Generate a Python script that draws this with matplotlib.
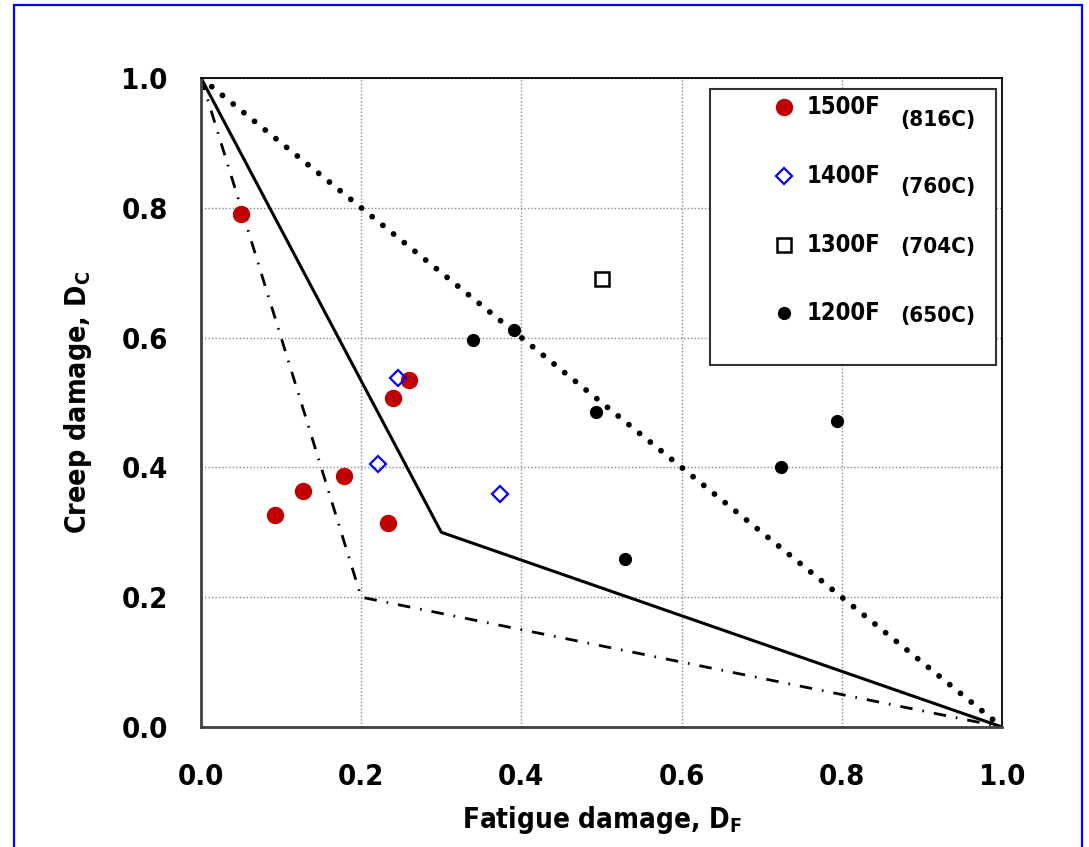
import matplotlib
matplotlib.use('Agg')
import matplotlib.pyplot as plt
from matplotlib.patches import Rectangle

plt.rcParams['font.family'] = ['DejaVu Sans']
plt.rcParams['font.stretch'] = 'condensed'
plt.rcParams['font.weight'] = 'bold'
plt.rcParams['mathtext.default'] = 'bf'

# damage points per test temperature (fatigue D_F, creep D_C)
df_1500 = [0.050, 0.092, 0.127, 0.179, 0.233, 0.240, 0.260]
dc_1500 = [0.790, 0.326, 0.363, 0.386, 0.315, 0.507, 0.534]
df_1400 = [0.246, 0.221, 0.373]
dc_1400 = [0.538, 0.405, 0.359]
df_1300 = [0.501]
dc_1300 = [0.690]
df_1200 = [0.340, 0.391, 0.493, 0.529, 0.724, 0.794]
dc_1200 = [0.596, 0.612, 0.486, 0.259, 0.400, 0.471]

# damage envelopes
env_linear_x = [0.0, 1.0]
env_linear_y = [1.0, 0.0]
env_bilin_x = [0.0, 0.3, 1.0]
env_bilin_y = [1.0, 0.3, 0.0]
env_low_x = [0.0, 0.2, 1.0]
env_low_y = [1.0, 0.2, 0.0]

temps_f = ['1500F', '1400F', '1300F', '1200F']
temps_c = ['(816C)', '(760C)', '(704C)', '(650C)']

styles = [
    dict(marker='o', color='#C00000', ms=11.5),
    dict(marker='D', mfc='none', mec='#0000FF', ms=8, mew=1.6),
    dict(marker='s', mfc='none', mec='black', ms=9.5, mew=1.8),
    dict(marker='o', color='black', ms=8.5),
]

fig = plt.figure(figsize=(10.89, 8.47), dpi=100)
ax = fig.add_axes([0.1846, 0.1417, 0.7355, 0.7662])

ax.plot(env_linear_x, env_linear_y, color='black', lw=4.2, ls=(0, (0.01, 2.35)),
        dash_capstyle='round', zorder=2)
ax.plot(env_bilin_x, env_bilin_y, color='black', lw=2.2, zorder=2)
ax.plot(env_low_x, env_low_y, color='black', lw=2.0, ls=(0, (4.5, 3.6, 0.6, 3.6)), zorder=2)

for xs, ys, st in zip([df_1500, df_1400, df_1300, df_1200],
                      [dc_1500, dc_1400, dc_1300, dc_1200], styles):
    ax.plot(xs, ys, ls='none', zorder=4, **st)

ax.set_xlim(0, 1)
ax.set_ylim(0, 1)
ticks = [0.0, 0.2, 0.4, 0.6, 0.8, 1.0]
ax.set_xticks(ticks)
ax.set_yticks(ticks)
ax.set_xticklabels(['%.1f' % t for t in ticks])
ax.set_yticklabels(['%.1f' % t for t in ticks])
ax.tick_params(length=0, labelsize=21)
ax.tick_params(axis='x', pad=26)
ax.tick_params(axis='y', pad=24)
ax.grid(True, color='#888888', ls=(0, (1, 1.5)), lw=1)
ax.set_axisbelow(True)

for side in ['left', 'bottom']:
    ax.spines[side].set_color('#404040')
    ax.spines[side].set_linewidth(2)
for side in ['top', 'right']:
    ax.spines[side].set_color('black')
    ax.spines[side].set_linewidth(1.3)

ax.set_xlabel('Fatigue damage, D$_F$', fontsize=20, fontweight='bold', labelpad=9)
ax.set_ylabel('Creep damage, D$_C$', fontsize=20.5, fontweight='bold', labelpad=20)

# legend box drawn by hand so the Celsius column can sit apart
ax.add_patch(Rectangle((0.635, 0.558), 0.358, 0.425, transform=ax.transAxes,
                       facecolor='white', edgecolor='#333333', lw=1.5, zorder=5))
row_y = [0.955, 0.849, 0.743, 0.638]
c_y = [0.935, 0.832, 0.740, 0.634]
for yf, yc, st, tf, tc in zip(row_y, c_y, styles, temps_f, temps_c):
    ax.plot([0.728], [yf], ls='none', transform=ax.transAxes, clip_on=False, zorder=6, **st)
    ax.text(0.756, yf, tf, transform=ax.transAxes, fontsize=17, fontweight='bold',
            va='center', ha='left', zorder=6)
    ax.text(0.873, yc, tc, transform=ax.transAxes, fontsize=16, fontweight='bold',
            va='center', ha='left', zorder=6)

# frame around the whole figure, open at the bottom
fig.patches.append(Rectangle((0.0129, -0.01), 0.981, 1.004, transform=fig.transFigure,
                             fill=False, edgecolor='blue', lw=1.6))

fig.savefig('out.png', dpi=100)
